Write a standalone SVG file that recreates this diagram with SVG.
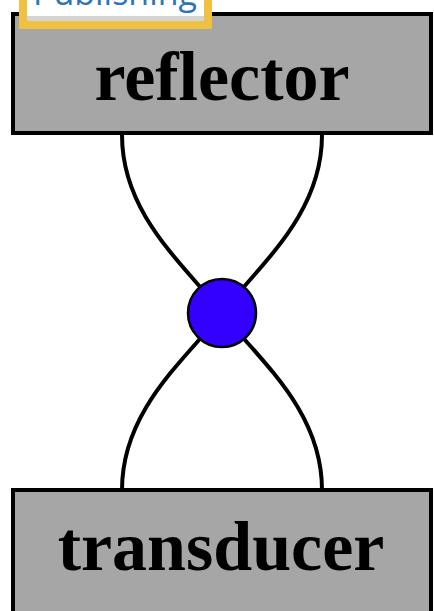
<svg xmlns="http://www.w3.org/2000/svg" width="434" height="611" viewBox="0 0 434 611">
<style>
.box{fill:#a6a6a6;stroke:#000;stroke-width:4}
.lbl{font-family:"Liberation Serif",serif;font-weight:bold;font-size:70px;fill:#000;text-anchor:middle}
.edge{fill:none;stroke:#000;stroke-width:4}
</style>
<rect width="434" height="611" fill="#fff"/>
<g id="reflector">
<rect class="box" x="13" y="14" width="418" height="119"/>
<text class="lbl" x="222" y="100">reflector</text>
</g>
<g id="transducer">
<rect class="box" x="13" y="490" width="418" height="130"/>
<text class="lbl" x="221" y="570">transducer</text>
</g>
<g id="connectors">
<path class="edge" d="M122,135 C122,215 185,265 222,313"/>
<path class="edge" d="M322,135 C322,215 259,265 222,313"/>
<path class="edge" d="M122,490 C122,410 185,360 222,313"/>
<path class="edge" d="M322,490 C322,410 259,360 222,313"/>
</g>
<g id="junction">
<circle cx="222" cy="313" r="34" fill="#3300ff" stroke="#000" stroke-width="2.5"/>
</g>
<g id="publishing">
<rect x="23" y="-10" width="185" height="35" fill="#fff" stroke="#f0c040" stroke-width="8"/>
<rect x="27" y="16" width="177" height="5" fill="#d4d4d4"/>
<text x="33" y="5" font-family="'Open Sans','Liberation Sans',sans-serif" font-size="34" fill="#2e75b6" textLength="164" lengthAdjust="spacingAndGlyphs">Publishing</text>
</g>
</svg>
